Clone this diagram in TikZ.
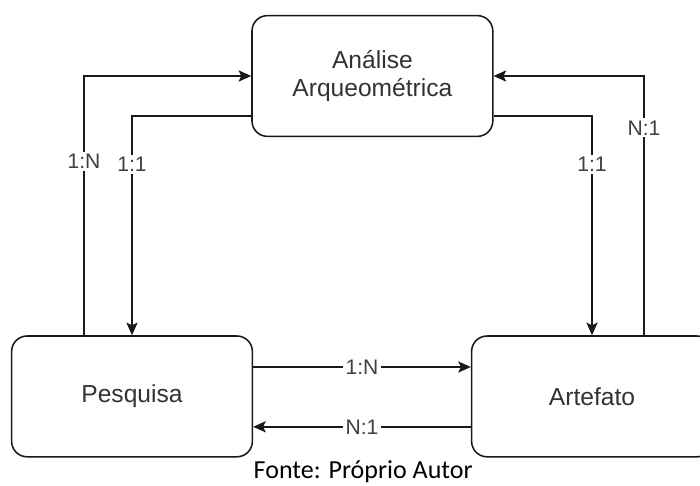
\documentclass[tikz,border=0pt]{standalone}
\usepackage{fontspec}
\setmainfont{Liberation Sans}
\newfontfamily\capfont{Carlito}
\usetikzlibrary{positioning,arrows.meta}

\begin{document}
\begin{tikzpicture}[
          ent/.style={rectangle,rounded corners=11pt,draw=black!90,line width=1.1pt,
            minimum width=6.02cm,minimum height=3.02cm,align=center,text=black!80,
            font=\fontsize{17.5}{20.5}\selectfont},
          rel/.style={black!90,line width=1.1pt,-{Stealth[length=9pt,width=8pt,inset=2pt]}},
          card/.style={fill=white,inner sep=1.5pt,text=black!75,font=\fontsize{15}{17}\selectfont},
        ]
        \useasboundingbox (0, 0) rectangle (17.5, -12.125);
        \node[ent] (ana) at (9.31, -1.9) {Análise\\Arqueométrica};
        \node[ent] (pes) at (3.3, -9.91) {Pesquisa};
        \node[ent] (art) at (14.8, -9.91) {Artefato};
        \draw[rel] ([xshift=-1.2cm]pes.north) |- node[card,pos=0.335] {1:N} (ana.west);
        \draw[rel] ([yshift=-1cm]ana.west) -| node[card,pos=0.61] {1:1} (pes.north);
        \draw[rel] ([yshift=-1cm]ana.east) -| node[card,pos=0.61] {1:1} (art.north);
        \draw[rel] ([xshift=1.3cm]art.north) |- node[card,pos=0.4] {N:1} (ana.east);
        \draw[rel] ([yshift=0.735cm]pes.east) -- node[card] {1:N} ([yshift=0.735cm]art.west);
        \draw[rel] ([yshift=-0.76cm]art.west) -- node[card] {N:1} ([yshift=-0.76cm]pes.east);
        \node[inner sep=0pt,font=\capfont\fontsize{18.5}{20}\selectfont] (fonte) at (9.08, -11.8) {Fonte: Próprio Autor};
      \end{tikzpicture}
\end{document}
